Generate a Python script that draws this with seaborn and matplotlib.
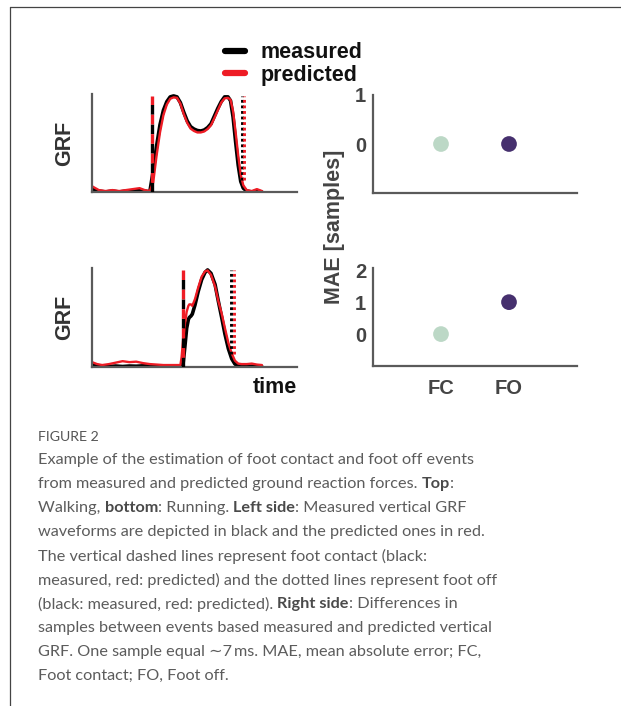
import matplotlib
matplotlib.use("Agg")
import matplotlib.pyplot as plt
from matplotlib.lines import Line2D
import numpy as np
import pandas as pd
import seaborn as sns

# ---------------- data ----------------
walk_time = [0, 2, 4, 8, 12, 16, 20, 24, 28, 31, 34, 36, 38, 40, 42, 44, 46, 48, 50, 52,
             54, 56, 58, 60, 62, 64, 66, 68, 70, 72, 74, 76, 78, 80, 81.5, 83, 84.5, 86,
             87.5, 89, 91, 94, 97, 100]
walk_measured = [0.04, 0.02, 0.01, 0.00, 0.01, 0.00, 0.01, 0.01, 0.02, 0.01, 0.00, 0.22,
                 0.48, 0.70, 0.85, 0.94, 0.99, 1.00, 0.99, 0.93, 0.83, 0.74, 0.68, 0.655,
                 0.64, 0.635, 0.645, 0.67, 0.71, 0.79, 0.87, 0.94, 0.99, 0.99, 0.95, 0.78,
                 0.52, 0.28, 0.11, 0.04, 0.01, 0.00, 0.01, 0.00]
walk_predicted = [0.06, 0.04, 0.02, 0.01, 0.02, 0.01, 0.02, 0.03, 0.04, 0.02, 0.01, 0.10,
                  0.38, 0.62, 0.80, 0.91, 0.97, 0.985, 0.98, 0.92, 0.81, 0.72, 0.66, 0.635,
                  0.62, 0.62, 0.63, 0.655, 0.695, 0.77, 0.85, 0.93, 0.975, 0.98, 0.96, 0.84,
                  0.62, 0.38, 0.18, 0.07, 0.02, 0.01, 0.03, 0.01]

run_time = [0, 3, 6, 10, 14, 18, 22, 26, 30, 34, 38, 42, 46, 50, 52, 52.7, 53.7, 54.7,
            55.7, 56.7, 57.25, 58.2, 59.0, 60.6, 62.5, 64.5, 66.5, 68, 70, 72.4, 74.3,
            76.3, 78.2, 80.2, 82.2, 84.1, 86, 88, 91, 94, 97, 100]
run_measured = [0.03, 0.015, 0.01, 0.005, 0.01, 0.005, 0.01, 0.008, 0.012, 0.01, 0.008,
                0.01, 0.008, 0.006, 0.005, 0.006, 0.05, 0.22, 0.40, 0.49, 0.51, 0.525,
                0.545, 0.64, 0.78, 0.90, 0.975, 1.00, 0.965, 0.85, 0.68, 0.51, 0.34, 0.19,
                0.085, 0.03, 0.015, 0.008, 0.005, 0.008, 0.006, 0.003]
run_predicted = [0.05, 0.03, 0.02, 0.03, 0.045, 0.06, 0.05, 0.055, 0.04, 0.03, 0.025, 0.02,
                 0.02, 0.02, 0.02, 0.10, 0.30, 0.45, 0.57, 0.63, 0.645, 0.645, 0.63, 0.70,
                 0.82, 0.93, 0.985, 0.995, 0.95, 0.83, 0.68, 0.55, 0.40, 0.25, 0.14, 0.065,
                 0.035, 0.03, 0.03, 0.035, 0.025, 0.02]

# event positions (same time units)
walk_fc = 35.1
walk_fo_measured = 88.0
walk_fo_predicted = 89.6
run_fc = 53.3
run_fo_measured = 82.0
run_fo_predicted = 83.6

events = ["FC", "FO"]
mae_walk = [0, 0]
mae_run = [0, 1]

series_names = ["measured", "predicted"]

# ---------------- style ----------------
sns.set_style("white")
plt.rcParams["font.family"] = ["Liberation Sans", "DejaVu Sans"]
plt.rcParams["font.weight"] = "bold"
plt.rcParams["lines.scale_dashes"] = False

BLACK = "#000000"
RED = "#ee1c25"
SPINE = "#5a5a5a"
TICK = "#444444"
FC_COL = "#bcd8c6"
FO_COL = "#46306e"

W, H = 621, 706
fig = plt.figure(figsize=(W / 100, H / 100), dpi=100)


def ax_rect(x0, y0, x1, y1):
    return [x0 / W, 1 - y1 / H, (x1 - x0) / W, (y1 - y0) / H]


ax_w = fig.add_axes(ax_rect(92, 94, 297, 192))
ax_r = fig.add_axes(ax_rect(92, 268, 297, 367))
ax_mw = fig.add_axes(ax_rect(373, 95, 577, 193))
ax_mr = fig.add_axes(ax_rect(373, 268, 577, 366))


def long_df(t, m, p):
    return pd.DataFrame({
        "time": list(t) + list(t),
        "grf": list(m) + list(p),
        "source": [series_names[0]] * len(t) + [series_names[1]] * len(t),
    })


def grf_panel(ax, t, m, p, fc, fo_m, fo_p, legend):
    df = long_df(t, m, p)
    sns.lineplot(data=df, x="time", y="grf", hue="source", size="source",
                 palette={"measured": BLACK, "predicted": RED},
                 sizes={"measured": 2.6, "predicted": 1.7},
                 estimator=None, sort=True, legend=legend, ax=ax)
    # foot contact: alternating black / red dashes
    ax.vlines(fc, 0, 1.0, colors=BLACK, linewidth=2.4, linestyles=[(0, (7, 7))], zorder=4)
    ax.vlines(fc, 0, 1.0, colors=RED, linewidth=2.4, linestyles=[(7, (7, 7))], zorder=4)
    # foot off: dotted
    ax.vlines(fo_m, 0.13, 1.0, colors=BLACK, linewidth=2.1, linestyles=[(0, (2.0, 2.0))], zorder=4)
    ax.vlines(fo_p, 0.13, 1.0, colors=RED, linewidth=2.1, linestyles=[(0, (2.0, 2.0))], zorder=4)
    ax.set_xlim(0, 120.6)
    ax.set_ylim(0, 1.02)
    ax.set_xticks([])
    ax.set_yticks([])
    for s in ["top", "right"]:
        ax.spines[s].set_visible(False)
    for s in ["left", "bottom"]:
        ax.spines[s].set_color(SPINE)
        ax.spines[s].set_linewidth(1.6)
    ax.set_ylabel("GRF", fontsize=15.5, fontweight="bold", color="#333333")
    ax.yaxis.set_label_coords(-0.083, 0.5)
    ax.set_xlabel("")


grf_panel(ax_w, walk_time, walk_measured, walk_predicted,
          walk_fc, walk_fo_measured, walk_fo_predicted, legend=True)
grf_panel(ax_r, run_time, run_measured, run_predicted,
          run_fc, run_fo_measured, run_fo_predicted, legend=False)

ax_r.set_xlabel("time", fontsize=15.5, fontweight="bold", color="#111111", loc="right",
                labelpad=7)

sns.move_legend(ax_w, "center", bbox_to_anchor=(294 / W, 1 - 64 / H),
                bbox_transform=fig.transFigure, frameon=False, title=None,
                fontsize=15.5, handlelength=0.9, handletextpad=0.75,
                labelspacing=0.05, borderpad=0)
leg = ax_w.get_legend()
for h in leg.legend_handles:
    h.set_linewidth(4.5)
for txt in leg.get_texts():
    txt.set_fontweight("bold")
    txt.set_color("#111111")


def mae_panel(ax, vals, yticks, ylim, show_x):
    df = pd.DataFrame({"event": events, "mae": vals})
    sns.scatterplot(data=df, x="event", y="mae", hue="event",
                    palette={"FC": FC_COL, "FO": FO_COL}, s=128, linewidth=0,
                    legend=False, ax=ax, zorder=3)
    ax.set_xlim(-1, 2)
    ax.set_ylim(*ylim)
    ax.set_yticks(yticks)
    ax.set_yticklabels([str(v) for v in yticks])
    ax.set_xticks([0, 1])
    if show_x:
        ax.set_xticklabels(events)
    else:
        ax.set_xticklabels([])
    ax.tick_params(axis="both", length=0, labelsize=14.5, labelcolor=TICK)
    ax.tick_params(axis="y", pad=5)
    ax.tick_params(axis="x", pad=9)
    for lab in ax.get_xticklabels() + ax.get_yticklabels():
        lab.set_fontweight("bold")
    for s in ["top", "right"]:
        ax.spines[s].set_visible(False)
    for s in ["left", "bottom"]:
        ax.spines[s].set_color(SPINE)
        ax.spines[s].set_linewidth(1.6)
    ax.set_xlabel("")
    ax.set_ylabel("")


mae_panel(ax_mw, mae_walk, [0, 1], (-1, 1.0), False)
mae_panel(ax_mr, mae_run, [0, 1, 2], (-1, 2.07), True)

fig.text(335 / W, 1 - 227 / H, "MAE [samples]", rotation=90, ha="center", va="center",
         fontsize=15.5, fontweight="bold", color="#444444")

# ---------------- frame lines ----------------
fig.add_artist(Line2D([10 / W, 1], [1 - 7 / H, 1 - 7 / H], transform=fig.transFigure,
                      color="#444444", linewidth=0.9))
fig.add_artist(Line2D([10 / W, 10 / W], [1 - 7 / H, 0], transform=fig.transFigure,
                      color="#444444", linewidth=0.9))

# ---------------- caption ----------------
CAP_FAM = ["Lato", "DejaVu Sans"]
CAP_COL = "#5c5c5c"
fig.text(38 / W, 1 - 437 / H, "FIGURE 2", fontsize=10.2, family=CAP_FAM,
         fontweight="normal", color="#555555", va="center", ha="left")

caption = [
    [("Example of the estimation of foot contact and foot off events", False)],
    [("from measured and predicted ground reaction forces. ", False), ("Top", True), (":", False)],
    [("Walking, ", False), ("bottom", True), (": Running. ", False), ("Left side", True),
     (": Measured vertical GRF", False)],
    [("waveforms are depicted in black and the predicted ones in red.", False)],
    [("The vertical dashed lines represent foot contact (black:", False)],
    [("measured, red: predicted) and the dotted lines represent foot off", False)],
    [("(black: measured, red: predicted). ", False), ("Right side", True),
     (": Differences in", False)],
    [("samples between events based measured and predicted vertical", False)],
    [("GRF. One sample equal \u223c7\u2009ms. MAE, mean absolute error; FC,", False)],
    [("Foot contact; FO, Foot off.", False)],
]

renderer = fig.canvas.get_renderer()


def text_width(s, size, bold):
    t = fig.text(0, 0, s, fontsize=size, family=CAP_FAM,
                 fontweight="bold" if bold else "normal")
    w = t.get_window_extent(renderer).width
    t.remove()
    return w


def advance(s, size, bold):
    # horizontal advance of s, trailing spaces included
    return text_width(s + "|", size, bold) - text_width("|", size, bold)


# fit the caption font size so the first line spans its width in the reference
target = 475 - 38
base = 12.0
w0 = text_width(caption[0][0][0], base, False)
cap_size = base * target / w0

y0 = 460
for i, line in enumerate(caption):
    x = 38.0
    y = 1 - (y0 + 24 * i) / H
    for seg, bold in line:
        fig.text(x / W, y, seg, fontsize=cap_size, family=CAP_FAM,
                 fontweight="bold" if bold else "normal",
                 color="#4a4a4a" if bold else CAP_COL, ha="left", va="center")
        x += advance(seg, cap_size, bold)

fig.savefig("out.png", dpi=100)
